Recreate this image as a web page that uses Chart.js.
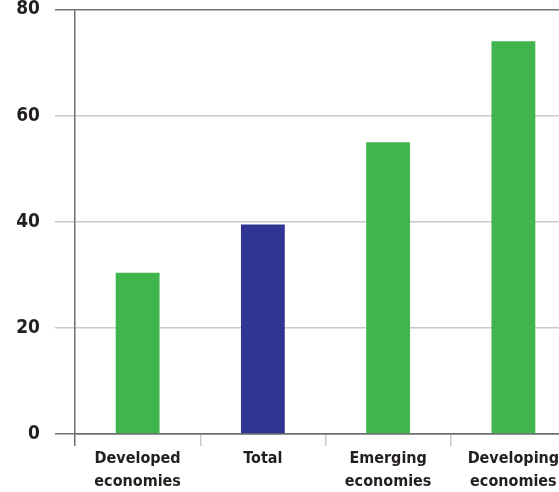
<!DOCTYPE html>
<html>
<head>
<meta charset="utf-8">
<script src="https://cdn.jsdelivr.net/npm/chart.js@4"></script>
<style>
  html, body { margin: 0; padding: 0; background: #ffffff; overflow: hidden; }
  #wrap { width: 576px; height: 507px; position: relative; margin-top: -15px; }
</style>
</head>
<body>
<div id="wrap"><canvas id="bars"></canvas></div>
<script>
// Chart data
const categories = [['Developed', 'economies'], 'Total', ['Emerging', 'economies'], ['Developing', 'economies']];
const values = [30.4, 39.5, 55, 74];
const barColors = ['#40b54d', '#313592', '#40b54d', '#40b54d'];
const yTicks = [0, 20, 40, 60, 80];

const darkLine = '#6d6e70';
const lightLine = '#c9c9c9';
const textColor = '#231f20';
const fontName = "'Liberation Sans Narrow', 'DejaVu Sans Condensed', sans-serif";

document.addEventListener('DOMContentLoaded', function() {
    const ctx = document.getElementById('bars');
    new Chart(ctx, {
        type: 'bar',
        data: {
            labels: categories,
            datasets: [{
                data: values,
                backgroundColor: barColors,
                borderWidth: 0,
                barPercentage: 0.35,
                categoryPercentage: 1
            }]
        },
        options: {
            responsive: true,
            maintainAspectRatio: false,
            animation: false,
            layout: { padding: 0 },
            plugins: {
                legend: { display: false },
                tooltip: { enabled: false }
            },
            scales: {
                y: {
                    min: 0,
                    max: 80,
                    afterBuildTicks: function(axis) {
                        axis.ticks = yTicks.map(v => ({ value: v }));
                    },
                    afterFit: function(axis) { axis.width = 75; },
                    border: { display: true, color: darkLine, width: 1.5 },
                    grid: {
                        color: c => (c.tick && (c.tick.value === 80 || c.tick.value === 0)) ? darkLine : lightLine,
                        lineWidth: 1.5,
                        tickLength: 20
                    },
                    ticks: {
                        color: textColor,
                        padding: 15,
                        font: { family: fontName, size: 19, weight: 'bold', lineHeight: 1 }
                    }
                },
                x: {
                    afterFit: function(axis) { axis.height = 58; },
                    border: { display: true, color: darkLine, width: 1.5 },
                    grid: {
                        offset: true,
                        drawOnChartArea: false,
                        tickLength: 12,
                        color: c => c.index === 0 ? darkLine : lightLine,
                        lineWidth: 1.5
                    },
                    ticks: {
                        color: textColor,
                        padding: 1,
                        maxRotation: 0,
                        font: { family: fontName, size: 16, weight: 'bold', lineHeight: 1.45 }
                    }
                }
            }
        }
    });
});
</script>
</body>
</html>
